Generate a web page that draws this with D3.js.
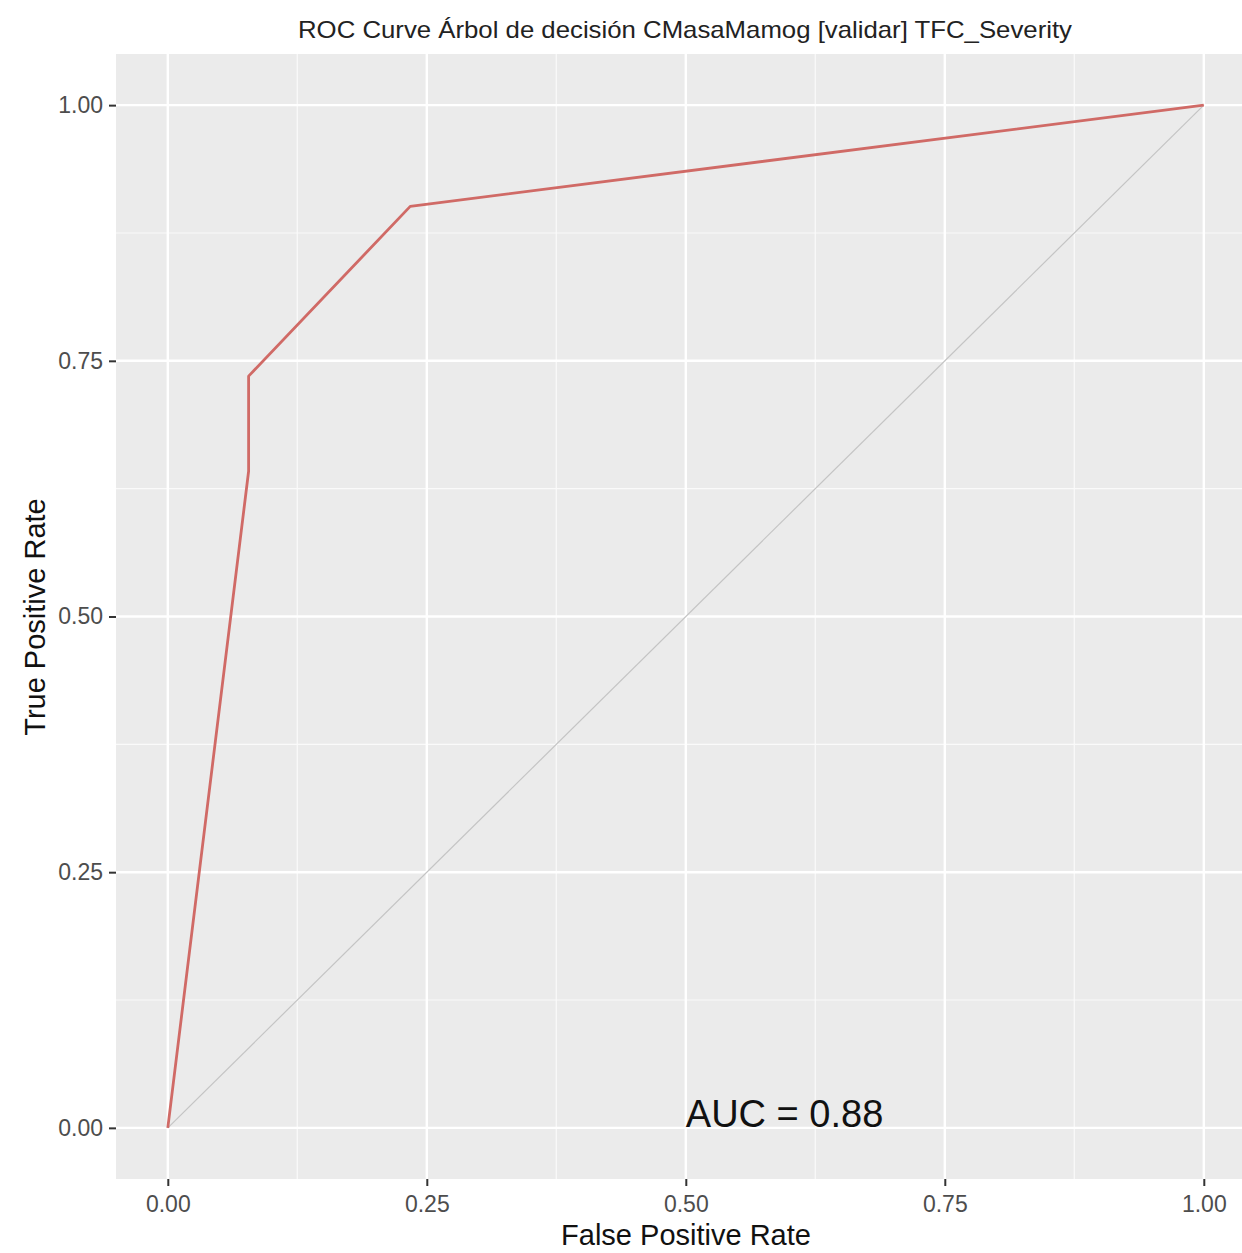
<!DOCTYPE html>
<html>
<head>
<meta charset="utf-8">
<script src="https://cdn.jsdelivr.net/npm/d3@7"></script>
<style>
  body { margin: 0; background: #fff; }
  svg { display: block; font-family: "Liberation Sans", Arial, sans-serif; }
</style>
</head>
<body>
<div id="chart"></div>
<script>
// ROC points
var fpr = [0, 0.078, 0.078, 0.234, 1];
var tpr = [0, 0.642, 0.735, 0.901, 1];
var ticks = [0, 0.25, 0.5, 0.75, 1];
var tickLabels = ["0.00", "0.25", "0.50", "0.75", "1.00"];
var minorTicks = [0.125, 0.375, 0.625, 0.875];
var titleText = "ROC Curve Árbol de decisión CMasaMamog [validar] TFC_Severity";
var aucText = "AUC = 0.88";

var width = 1242, height = 1253;

var x = d3.scaleLinear().domain([-0.05, 1.05]).range([116, 1255.6]);
var y = d3.scaleLinear().domain([-0.05, 1.05]).range([1179, 54]);

var svg = d3.select("#chart").append("svg")
    .attr("width", width)
    .attr("height", height);

// panel background
svg.append("rect")
    .attr("x", x(-0.05))
    .attr("y", y(1.05))
    .attr("width", x(1.05) - x(-0.05))
    .attr("height", y(-0.05) - y(1.05))
    .attr("fill", "#ebebeb");

// minor grid
svg.selectAll(".minorx").data(minorTicks).enter().append("line")
    .attr("x1", function (d) { return x(d); })
    .attr("x2", function (d) { return x(d); })
    .attr("y1", y(-0.05)).attr("y2", y(1.05))
    .attr("stroke", "#fafafa").attr("stroke-width", 1.2);
svg.selectAll(".minory").data(minorTicks).enter().append("line")
    .attr("y1", function (d) { return y(d); })
    .attr("y2", function (d) { return y(d); })
    .attr("x1", x(-0.05)).attr("x2", x(1.05))
    .attr("stroke", "#fafafa").attr("stroke-width", 1.2);

// major grid
svg.selectAll(".majorx").data(ticks).enter().append("line")
    .attr("x1", function (d) { return x(d); })
    .attr("x2", function (d) { return x(d); })
    .attr("y1", y(-0.05)).attr("y2", y(1.05))
    .attr("stroke", "#ffffff").attr("stroke-width", 2.4);
svg.selectAll(".majory").data(ticks).enter().append("line")
    .attr("y1", function (d) { return y(d); })
    .attr("y2", function (d) { return y(d); })
    .attr("x1", x(-0.05)).attr("x2", x(1.05))
    .attr("stroke", "#ffffff").attr("stroke-width", 2.4);

// diagonal reference
svg.append("line")
    .attr("x1", x(0)).attr("y1", y(0))
    .attr("x2", x(1)).attr("y2", y(1))
    .attr("stroke", "#c4c4c4")
    .attr("stroke-width", 1.2);

// ROC curve
var pts = fpr.map(function (d, i) { return [d, tpr[i]]; });
var line = d3.line()
    .x(function (d) { return x(d[0]); })
    .y(function (d) { return y(d[1]); });
svg.append("path")
    .datum(pts)
    .attr("d", line)
    .attr("fill", "none")
    .attr("stroke", "#d06a66")
    .attr("stroke-width", 2.8)
    .attr("stroke-linejoin", "round");

// axes
var xAxis = d3.axisBottom(x).tickValues(ticks)
    .tickFormat(function (d, i) { return tickLabels[i]; })
    .tickSize(7).tickPadding(10);
var gx = svg.append("g")
    .attr("transform", "translate(0," + y(-0.05) + ")")
    .call(xAxis);
gx.select(".domain").remove();
gx.selectAll(".tick line").attr("stroke", "#333").attr("stroke-width", 2);
gx.selectAll(".tick text").attr("fill", "#4d4d4d").style("font-size", "23px")
    .style("font-family", "Liberation Sans, Arial, sans-serif");

var yAxis = d3.axisLeft(y).tickValues(ticks)
    .tickFormat(function (d, i) { return tickLabels[i]; })
    .tickSize(7).tickPadding(6);
var gy = svg.append("g")
    .attr("transform", "translate(" + x(-0.05) + ",0)")
    .call(yAxis);
gy.select(".domain").remove();
gy.selectAll(".tick line").attr("stroke", "#333").attr("stroke-width", 2);
gy.selectAll(".tick text").attr("fill", "#4d4d4d").style("font-size", "23px")
    .style("font-family", "Liberation Sans, Arial, sans-serif");

// AUC annotation
svg.append("text")
    .attr("x", x(0.5))
    .attr("y", y(0) - 1)
    .attr("fill", "#111")
    .style("font-size", "38px")
    .text(aucText);

// titles
svg.append("text")
    .attr("x", 685)
    .attr("y", 38)
    .attr("text-anchor", "middle")
    .attr("fill", "#222")
    .style("font-size", "24px")
    .style("font-family", "Liberation Sans Narrow, Liberation Sans, Arial, sans-serif")
    .attr("textLength", 774)
    .attr("lengthAdjust", "spacingAndGlyphs")
    .text(titleText);

svg.append("text")
    .attr("x", 686)
    .attr("y", 1245)
    .attr("text-anchor", "middle")
    .attr("fill", "#111")
    .style("font-size", "29px")
    .text("False Positive Rate");

svg.append("text")
    .attr("transform", "translate(45,617) rotate(-90)")
    .attr("text-anchor", "middle")
    .attr("fill", "#111")
    .style("font-size", "29px")
    .text("True Positive Rate");
</script>
</body>
</html>
